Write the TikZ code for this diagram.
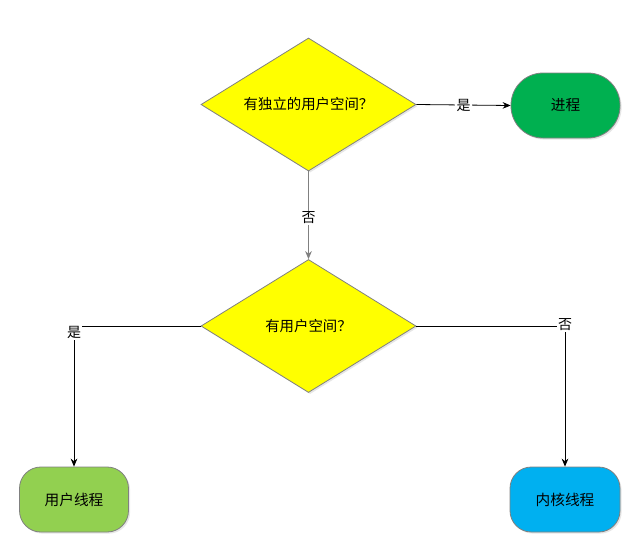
\documentclass[tikz,border=0pt]{standalone}
\usepackage{fontspec}
\setmainfont{Noto Sans CJK SC}
\usetikzlibrary{shapes.geometric,arrows.meta,shadows}
\definecolor{dyellow}{HTML}{FFFF00}
\definecolor{pgreen}{HTML}{00B050}
\definecolor{lgreen}{HTML}{92D050}
\definecolor{kblue}{HTML}{00B0F0}
\definecolor{bord}{HTML}{808080}
\tikzset{
  shd/.style={drop shadow={opacity=0.2,shadow xshift=1.2pt,shadow yshift=-1.2pt}},
  decision/.style={diamond,draw=bord,fill=dyellow,line width=0.6pt,inner sep=0pt,
    minimum width=161.25pt,minimum height=99.75pt,shd,
    label={[font=\fontsize{10.8pt}{12pt}\selectfont]center:#1}},
  term/.style={rectangle,draw=bord,line width=0.6pt,inner sep=0pt,
    minimum width=81.75pt,minimum height=48.75pt,font=\fontsize{11pt}{13pt}\selectfont,shd},
  flow/.style={draw=black,line width=0.6pt,-{Stealth[length=6pt,width=5pt]}},
  flowgray/.style={draw=bord,line width=0.6pt,-{Stealth[length=6pt,width=5pt]}},
  lbl/.style={fill=white,inner sep=1pt,font=\fontsize{10.5pt}{12pt}\selectfont}
}
\begin{document}
\begin{tikzpicture}[x=0.75pt,y=-0.75pt]
\useasboundingbox (0,0) rectangle (642,554);
\node[decision={有独立的用户空间？}] (d1) at (308.5,104.5) {};
\node[decision={有用户空间？}] (d2) at (308.5,326) {};
\node[term,fill=pgreen,rounded corners=24pt] (p) at (565.5,105.5) {进程};
\node[term,fill=lgreen,rounded corners=16pt] (u) at (74,499.5) {用户线程};
\node[term,fill=kblue,rounded corners=16pt,minimum width=82.5pt] (k) at (565,499.5) {内核线程};
\draw[flow] (d1.east) -- node[lbl] {是} (p.west);
\draw[flowgray] (d1.south) -- node[lbl,yshift=-2pt] {否} (d2.north);
\draw[flow] (d2.west) -| node[lbl,pos=0.5,yshift=-5pt] {是} (u.north);
\draw[flow] (d2.east) -| node[lbl,pos=0.5,yshift=1pt] {否} (k.north);
\end{tikzpicture}
\end{document}
